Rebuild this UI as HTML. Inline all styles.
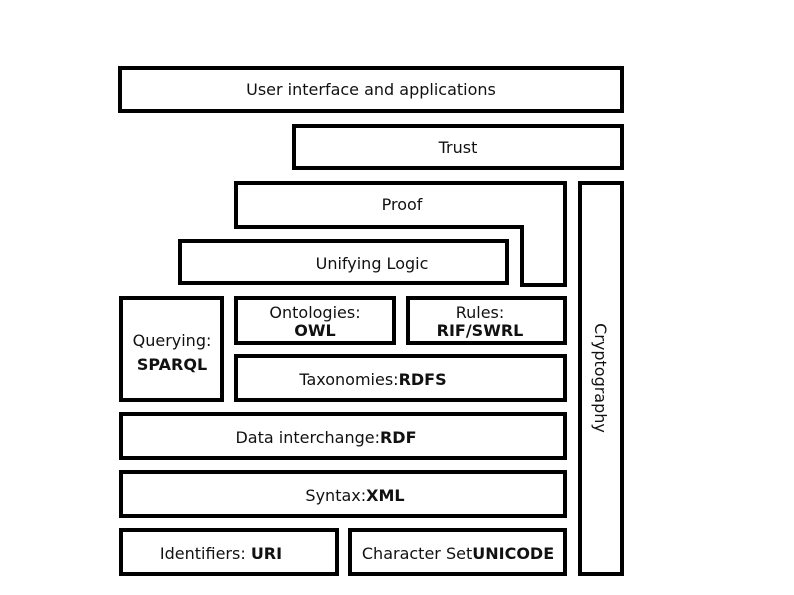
<!DOCTYPE html>
<html><head><meta charset="utf-8"><style>
html,body{margin:0;padding:0;background:#fff;}
svg{display:block;}
text{font-family:"DejaVu Sans","Liberation Sans",sans-serif;font-size:16px;fill:#111;}
.b{font-weight:bold;}
</style></head><body>
<svg width="794" height="595" viewBox="0 0 794 595" xmlns="http://www.w3.org/2000/svg">
<g fill="#fff" stroke="#000" stroke-width="4">
<rect x="120" y="68" width="502" height="43"/>
<rect x="294" y="126" width="328" height="42"/>
<path d="M236 183 H565 V285 H522 V227 H236 Z"/>
<rect x="180" y="241" width="327" height="42"/>
<rect x="580" y="183" width="42" height="391"/>
<rect x="121" y="298" width="101" height="102"/>
<rect x="236" y="298" width="158" height="45"/>
<rect x="408" y="298" width="157" height="45"/>
<rect x="236" y="356" width="329" height="44"/>
<rect x="121" y="414" width="444" height="44"/>
<rect x="121" y="472" width="444" height="44"/>
<rect x="121" y="530" width="216" height="44"/>
<rect x="350" y="530" width="215" height="44"/>
</g>
<g text-anchor="middle">
<text x="371" y="95">User interface and applications</text>
<text x="458" y="153">Trust</text>
<text x="402" y="210">Proof</text>
<text x="372" y="269">Unifying Logic</text>
<text x="172" y="346">Querying:</text>
<text x="172" y="370" class="b">SPARQL</text>
<text x="315" y="318">Ontologies:</text>
<text x="315" y="336" class="b">OWL</text>
<text x="480" y="318">Rules:</text>
<text x="480" y="336" class="b">RIF/SWRL</text>
<text x="373" y="385">Taxonomies:<tspan class="b">RDFS</tspan></text>
<text x="326" y="443">Data interchange:<tspan class="b">RDF</tspan></text>
<text x="355" y="501">Syntax:<tspan class="b">XML</tspan></text>
<text x="221" y="559">Identifiers: <tspan class="b">URI</tspan></text>
<text x="458" y="559">Character Set<tspan class="b">UNICODE</tspan></text>
<text x="0" y="0" transform="translate(595,378) rotate(90)">Cryptography</text>
</g>
</svg>
</body></html>
